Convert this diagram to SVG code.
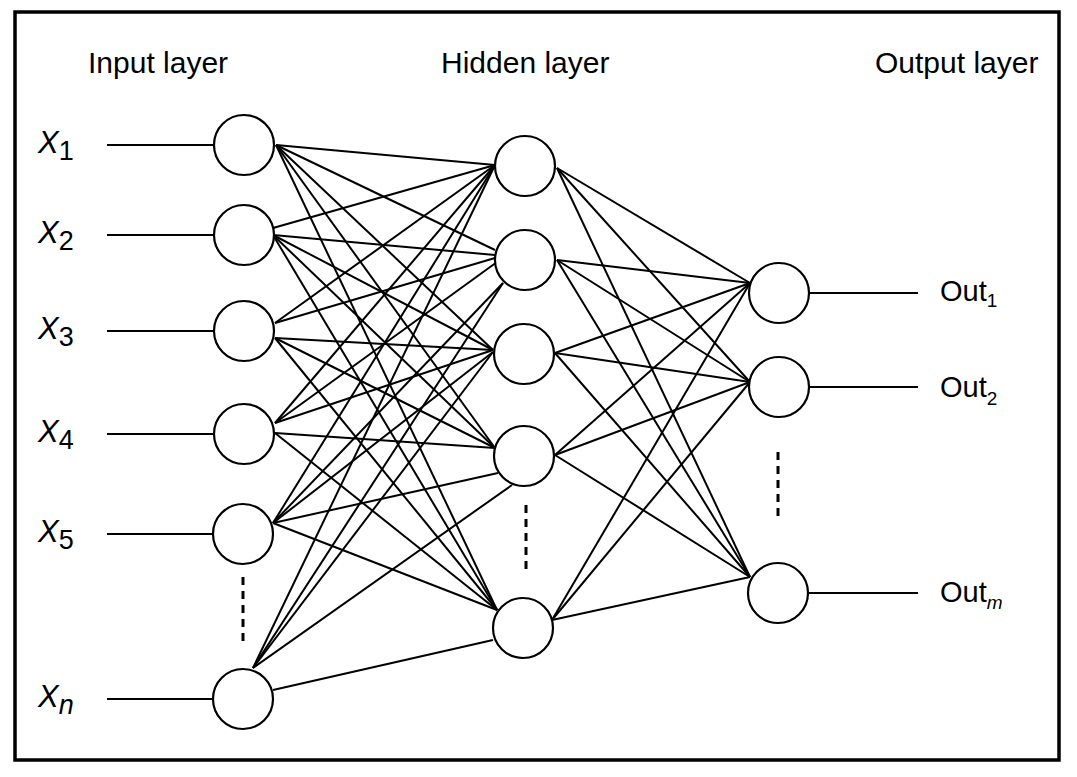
<svg xmlns="http://www.w3.org/2000/svg" width="1077" height="777" viewBox="0 0 1077 777">
<style>
.frame{fill:none;stroke:#000;stroke-width:3.5}
.node{fill:#fff;stroke:#000;stroke-width:2.2}
.c line{stroke:#000;stroke-width:2;fill:none}
.dash{stroke:#000;stroke-width:3;stroke-dasharray:8 6}
text{font-family:"Liberation Sans",Arial,Helvetica,sans-serif;fill:#000}
.hdr{font-size:30px}
.xl{font-size:31px;font-style:italic}
.xs{font-size:27px;font-style:normal}
.xi{font-size:27px;font-style:italic}
.ol{font-size:29px}
.os{font-size:19px;font-style:normal}
.oi{font-size:19px;font-style:italic}
</style>
<rect class="frame" x="15" y="12" width="1044" height="748"/>
<g id="headers">
<text class="hdr" x="88" y="73">Input layer</text>
<text class="hdr" x="441" y="73">Hidden layer</text>
<text class="hdr" x="875" y="73">Output layer</text>
</g>
<g id="connectors" class="c">
<line x1="107" y1="145" x2="214" y2="145"/>
<line x1="107" y1="235" x2="214" y2="235"/>
<line x1="107" y1="331" x2="214" y2="331"/>
<line x1="107" y1="434" x2="214" y2="434"/>
<line x1="107" y1="534" x2="213" y2="534"/>
<line x1="107" y1="699" x2="213" y2="699"/>
<line x1="808" y1="293" x2="918" y2="293"/>
<line x1="808" y1="387" x2="918" y2="387"/>
<line x1="808" y1="593" x2="918" y2="593"/>
<line x1="276" y1="145" x2="495" y2="165"/>
<line x1="276" y1="145" x2="495" y2="250"/>
<line x1="276" y1="145" x2="493" y2="350"/>
<line x1="276" y1="145" x2="495" y2="448"/>
<line x1="276" y1="145" x2="497" y2="610"/>
<line x1="273" y1="228" x2="495" y2="165"/>
<line x1="273" y1="235" x2="495" y2="255"/>
<line x1="273" y1="235" x2="493" y2="350"/>
<line x1="273" y1="235" x2="495" y2="448"/>
<line x1="273" y1="235" x2="497" y2="610"/>
<line x1="275" y1="323" x2="495" y2="165"/>
<line x1="275" y1="323" x2="495" y2="258"/>
<line x1="275" y1="338" x2="493" y2="350"/>
<line x1="275" y1="338" x2="495" y2="448"/>
<line x1="275" y1="338" x2="497" y2="610"/>
<line x1="275" y1="423" x2="495" y2="165"/>
<line x1="275" y1="423" x2="497" y2="262"/>
<line x1="275" y1="423" x2="493" y2="350"/>
<line x1="275" y1="433" x2="495" y2="448"/>
<line x1="275" y1="433" x2="497" y2="610"/>
<line x1="273" y1="523" x2="495" y2="165"/>
<line x1="273" y1="523" x2="503" y2="283"/>
<line x1="273" y1="523" x2="493" y2="352"/>
<line x1="273" y1="523" x2="498" y2="473"/>
<line x1="273" y1="523" x2="497" y2="610"/>
<line x1="253" y1="668" x2="495" y2="165"/>
<line x1="253" y1="668" x2="503" y2="283"/>
<line x1="253" y1="668" x2="493" y2="352"/>
<line x1="253" y1="668" x2="512" y2="485"/>
<line x1="273" y1="690" x2="493" y2="640"/>
<line x1="557" y1="168" x2="750" y2="283"/>
<line x1="557" y1="168" x2="750" y2="382"/>
<line x1="557" y1="168" x2="750" y2="577"/>
<line x1="557" y1="260" x2="750" y2="283"/>
<line x1="557" y1="260" x2="750" y2="382"/>
<line x1="557" y1="260" x2="750" y2="577"/>
<line x1="555" y1="353" x2="750" y2="283"/>
<line x1="555" y1="353" x2="750" y2="382"/>
<line x1="555" y1="353" x2="750" y2="577"/>
<line x1="555" y1="455" x2="750" y2="283"/>
<line x1="555" y1="455" x2="750" y2="382"/>
<line x1="555" y1="455" x2="750" y2="577"/>
<line x1="552" y1="620" x2="750" y2="283"/>
<line x1="552" y1="620" x2="750" y2="382"/>
<line x1="552" y1="620" x2="750" y2="577"/>
</g>
<g id="ellipses">
<line class="dash" x1="243" y1="577" x2="243" y2="642"/>
<line class="dash" x1="526" y1="505" x2="526" y2="570"/>
<line class="dash" x1="778" y1="452" x2="778" y2="518"/>
</g>
<g id="input-1"><circle class="node" cx="244" cy="145" r="30"/><text class="xl" x="38" y="153">X<tspan class="xs" dy="7">1</tspan></text></g>
<g id="input-2"><circle class="node" cx="244" cy="235" r="30"/><text class="xl" x="38" y="243">X<tspan class="xs" dy="7">2</tspan></text></g>
<g id="input-3"><circle class="node" cx="244" cy="331" r="30"/><text class="xl" x="38" y="339">X<tspan class="xs" dy="7">3</tspan></text></g>
<g id="input-4"><circle class="node" cx="244" cy="434" r="30"/><text class="xl" x="38" y="442">X<tspan class="xs" dy="7">4</tspan></text></g>
<g id="input-5"><circle class="node" cx="243" cy="534" r="30"/><text class="xl" x="38" y="542">X<tspan class="xs" dy="7">5</tspan></text></g>
<g id="input-n"><circle class="node" cx="243" cy="699" r="30"/><text class="xl" x="38" y="707">X<tspan class="xi" dy="7">n</tspan></text></g>
<g id="hidden-1"><circle class="node" cx="525" cy="166" r="30"/></g>
<g id="hidden-2"><circle class="node" cx="525" cy="260" r="30"/></g>
<g id="hidden-3"><circle class="node" cx="524" cy="354" r="30"/></g>
<g id="hidden-4"><circle class="node" cx="524" cy="456" r="30"/></g>
<g id="hidden-5"><circle class="node" cx="523" cy="628" r="30"/></g>
<g id="output-1"><circle class="node" cx="779" cy="293" r="30"/><text class="ol" x="940" y="301">Out<tspan class="os" dy="6">1</tspan></text></g>
<g id="output-2"><circle class="node" cx="779" cy="387" r="30"/><text class="ol" x="940" y="397">Out<tspan class="os" dy="8">2</tspan></text></g>
<g id="output-m"><circle class="node" cx="778" cy="593" r="30"/><text class="ol" x="940" y="602">Out<tspan class="oi" dy="7">m</tspan></text></g>
</svg>
